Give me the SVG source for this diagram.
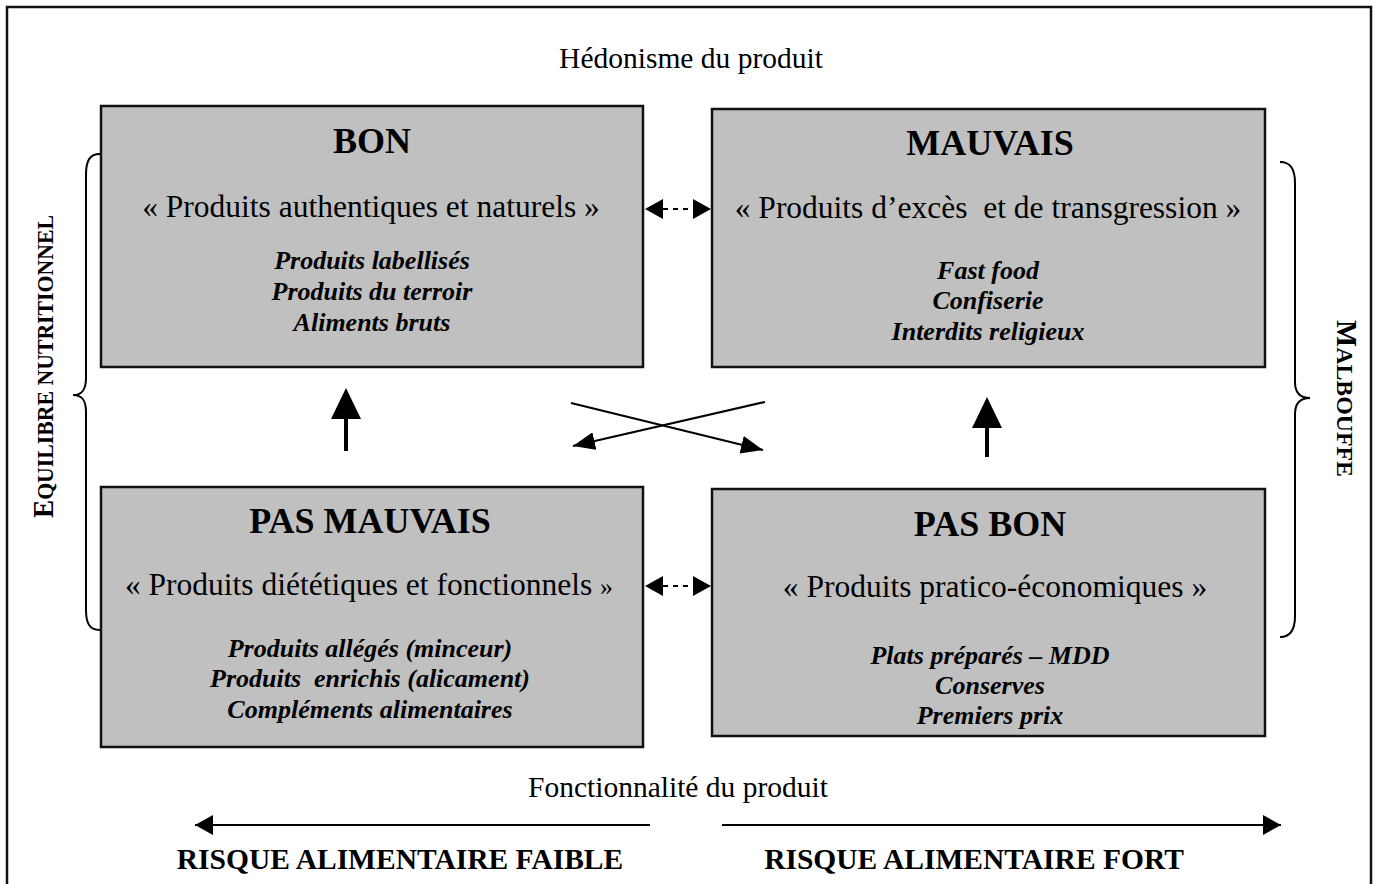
<svg xmlns="http://www.w3.org/2000/svg" width="1379" height="884" viewBox="0 0 1379 884">
<defs>
<style>
text{font-family:"Liberation Serif","Times New Roman",serif;fill:#000}
.box{fill:#c0c0c0;stroke:#111;stroke-width:2.5}
.title{font-size:36px;font-weight:bold;text-anchor:middle}
.sub{font-size:31.5px;text-anchor:middle}
.item{font-size:26px;font-weight:bold;font-style:italic;text-anchor:middle}
.label{font-size:29.5px;text-anchor:middle}
.risk{font-size:29.5px;font-weight:bold;text-anchor:middle}
.side{font-weight:bold;font-size:24px}
.line{stroke:#000;stroke-width:2.2;fill:none}
.dash{stroke:#000;stroke-width:2.2;stroke-dasharray:5,5;fill:none}
.brace{stroke:#000;stroke-width:2;fill:none}
</style>
<marker id="hx" markerUnits="userSpaceOnUse" viewBox="0 0 22 18" markerWidth="22" markerHeight="18" refX="22" refY="9" orient="auto">
<path d="M0,0 L22,9 L0,18 z" fill="#000"/>
</marker>
<marker id="hb" markerUnits="userSpaceOnUse" viewBox="0 0 18 20" markerWidth="18" markerHeight="20" refX="18" refY="10" orient="auto">
<path d="M0,0 L18,10 L0,20 z" fill="#000"/>
</marker>
</defs>
<rect width="1379" height="884" fill="#fff"/>
<rect x="7" y="7" width="1364" height="900" fill="none" stroke="#111" stroke-width="2.5"/>

<text class="label" x="691" y="68">Hédonisme du produit</text>
<text class="label" x="678" y="797">Fonctionnalité du produit</text>

<g id="bon">
<rect class="box" x="101" y="106" width="542" height="261"/>
<text class="title" x="372" y="153">BON</text>
<text class="sub" x="371" y="217">« Produits authentiques et naturels »</text>
<text class="item" x="372" y="269">Produits labellisés</text>
<text class="item" x="372" y="300">Produits du terroir</text>
<text class="item" x="372" y="331">Aliments bruts</text>
</g>

<g id="mauvais">
<rect class="box" x="712" y="109" width="553" height="258"/>
<text class="title" x="990" y="155">MAUVAIS</text>
<text class="sub" x="988" y="218" xml:space="preserve">« Produits d’excès  et de transgression »</text>
<text class="item" x="988" y="279">Fast food</text>
<text class="item" x="988" y="309">Confiserie</text>
<text class="item" x="988" y="340">Interdits religieux</text>
</g>

<g id="pas-mauvais">
<rect class="box" x="101" y="487" width="542" height="260"/>
<text class="title" x="370" y="533">PAS MAUVAIS</text>
<text class="sub" x="369" y="595">« Produits diététiques et fonctionnels <tspan font-size="26">»</tspan></text>
<text class="item" x="370" y="657">Produits allégés (minceur)</text>
<text class="item" x="370" y="687" xml:space="preserve">Produits  enrichis (alicament)</text>
<text class="item" x="370" y="718">Compléments alimentaires</text>
</g>

<g id="pas-bon">
<rect class="box" x="712" y="489" width="553" height="247"/>
<text class="title" x="990" y="536">PAS BON</text>
<text class="sub" x="995" y="597">« Produits pratico-économiques »</text>
<text class="item" x="990" y="664">Plats préparés – MDD</text>
<text class="item" x="990" y="694">Conserves</text>
<text class="item" x="990" y="724">Premiers prix</text>
</g>

<g id="equilibre">
<path class="brace" d="M100,154 C90,154 86,160 86,175 L86,378 C86,390 82,395 73,395 C82,395 86,400 86,412 L86,610 C86,624 90,630 100,630"/>
<text class="side" transform="translate(53,518) rotate(-90)" textLength="303" lengthAdjust="spacingAndGlyphs"><tspan font-size="30">E</tspan>QUILIBRE NUTRITIONNEL</text>
</g>

<g id="malbouffe">
<path class="brace" d="M1280,162 C1290,162 1295,168 1295,183 L1295,382 C1295,393 1300,398 1310,398 C1300,398 1295,403 1295,414 L1295,616 C1295,630 1290,637 1280,637"/>
<text class="side" transform="translate(1337,320) rotate(90)" textLength="157" lengthAdjust="spacingAndGlyphs"><tspan font-size="29">M</tspan>ALBOUFFE</text>
</g>

<g id="risque-faible">
<text class="risk" x="400" y="869">RISQUE ALIMENTAIRE FAIBLE</text>
</g>
<g id="risque-fort">
<text class="risk" x="974" y="869">RISQUE ALIMENTAIRE FORT</text>
</g>

<g id="connectors">
<line class="dash" x1="663" y1="209" x2="692" y2="209"/>
<path d="M645,209 L663,199 L663,219 z M711,209 L693,199 L693,219 z" fill="#000"/>
<line class="dash" x1="663" y1="586" x2="692" y2="586"/>
<path d="M645,586 L663,576 L663,596 z M711,586 L693,576 L693,596 z" fill="#000"/>

<line class="line" x1="571" y1="403" x2="763" y2="450" marker-end="url(#hx)"/>
<line class="line" x1="765" y1="402" x2="573" y2="446" marker-end="url(#hx)"/>

<path d="M344,451 L344,419 L331,419 L346,388 L361,419 L348,419 L348,451 z" fill="#000"/>
<path d="M985,457 L985,428 L972,428 L987,397 L1002,428 L989,428 L989,457 z" fill="#000"/>

<line class="line" x1="650" y1="825" x2="195" y2="825" marker-end="url(#hb)"/>
<line class="line" x1="722" y1="825" x2="1281" y2="825" marker-end="url(#hb)"/>
</g>
</svg>
